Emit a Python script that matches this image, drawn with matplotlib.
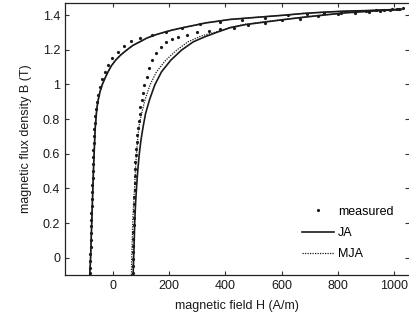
import numpy as np
import matplotlib
matplotlib.use('Agg')
import matplotlib.pyplot as plt

plt.rcParams['font.family'] = ['Liberation Sans', 'DejaVu Sans']
plt.rcParams['font.size'] = 9

# measured points, descending branch (H in A/m, B in T)
H_med_des = [1030, 1010, 990, 965, 935, 900, 860, 810, 750, 690, 623, 541, 458, 381, 310, 244,
             190, 138, 96, 64, 39, 17, -2, -17, -28, -38, -46, -52, -56, -59, -62, -64, -66,
             -67, -68, -69, -70, -71, -72, -72, -73, -74, -74, -75, -76, -76, -77, -78, -78,
             -79, -80, -80, -81, -82]
B_med_des = [1.44, 1.437, 1.433, 1.432, 1.428, 1.425, 1.42, 1.415, 1.41, 1.405, 1.40, 1.384,
             1.371, 1.36, 1.346, 1.327, 1.305, 1.288, 1.269, 1.25, 1.223, 1.188, 1.15, 1.11,
             1.073, 1.03, 0.987, 0.94, 0.90, 0.86, 0.82, 0.78, 0.74, 0.70, 0.66, 0.62, 0.58,
             0.54, 0.50, 0.46, 0.42, 0.38, 0.34, 0.30, 0.26, 0.22, 0.18, 0.14, 0.10, 0.06,
             0.02, -0.02, -0.06, -0.09]

# measured points, ascending branch
H_med_asc = [70, 71, 71, 72, 72, 73, 73, 74, 74, 75, 75, 76, 77, 78, 78, 79, 80, 82, 83, 85,
             87, 89, 92, 95, 98, 102, 107, 112, 120, 128, 140, 155, 171, 188, 211, 232, 262,
             300, 340, 381, 429, 481, 541, 600, 665, 730, 800, 860, 910, 950, 985, 1015]
B_med_asc = [-0.09, -0.05, -0.01, 0.03, 0.07, 0.11, 0.15, 0.19, 0.23, 0.27, 0.31, 0.35, 0.39,
             0.43, 0.47, 0.51, 0.55, 0.59, 0.63, 0.67, 0.71, 0.75, 0.79, 0.83, 0.87, 0.91,
             0.95, 0.997, 1.045, 1.093, 1.14, 1.18, 1.217, 1.246, 1.265, 1.275, 1.285, 1.30,
             1.31, 1.318, 1.327, 1.342, 1.357, 1.371, 1.38, 1.392, 1.405, 1.415, 1.42, 1.425,
             1.43, 1.435]

# JA model
H_ja_des = [1025, 960, 900, 826, 750, 680, 612, 540, 470, 416, 374, 330, 292, 250, 209, 180,
            149, 120, 96, 70, 49, 28, 10, -5, -17, -28, -38, -46, -52, -57, -60, -63, -65,
            -67, -69, -71, -73, -75, -77, -79, -82]
B_ja_des = [1.433, 1.430, 1.426, 1.423, 1.417, 1.410, 1.400, 1.391, 1.382, 1.375, 1.365,
            1.355, 1.342, 1.328, 1.313, 1.300, 1.285, 1.267, 1.246, 1.224, 1.198, 1.170,
            1.140, 1.108, 1.073, 1.035, 0.997, 0.955, 0.91, 0.86, 0.80, 0.74, 0.66, 0.58,
            0.50, 0.40, 0.30, 0.20, 0.10, 0.00, -0.10]
H_ja_asc = [72, 74, 76, 78, 81, 84, 87, 90, 94, 100, 108, 116, 130, 149, 173, 206, 244, 286,
            327, 375, 416, 470, 540, 612, 680, 760, 826, 900, 960, 1025]
B_ja_asc = [-0.10, 0.00, 0.10, 0.22, 0.32, 0.40, 0.47, 0.53, 0.60, 0.68, 0.76, 0.83, 0.91,
            0.997, 1.073, 1.14, 1.198, 1.246, 1.275, 1.304, 1.327, 1.345, 1.360, 1.375,
            1.388, 1.402, 1.413, 1.421, 1.427, 1.433]

# MJA model
H_mja_des = [1025, 960, 900, 826, 750, 680, 612, 540, 470, 416, 374, 330, 292, 250, 209, 180,
             149, 120, 96, 70, 49, 28, 10, -5, -17, -28, -38, -46, -52, -57, -60, -63, -65,
             -67, -69, -71, -73, -75, -77, -79, -82]
B_mja_des = [1.433, 1.430, 1.426, 1.423, 1.417, 1.410, 1.400, 1.391, 1.382, 1.375, 1.365,
             1.355, 1.342, 1.328, 1.313, 1.300, 1.285, 1.267, 1.246, 1.224, 1.198, 1.170,
             1.140, 1.108, 1.073, 1.035, 0.997, 0.955, 0.91, 0.86, 0.80, 0.74, 0.66, 0.58,
             0.50, 0.40, 0.30, 0.20, 0.10, 0.00, -0.10]
H_mja_asc = [66, 67, 69, 71, 74, 77, 79, 81, 84, 88, 93, 102, 114, 132, 155, 188, 227, 267,
             315, 375, 416, 470, 540, 612, 680, 760, 826, 900, 960, 1025]
B_mja_asc = [-0.10, 0.00, 0.10, 0.22, 0.32, 0.40, 0.47, 0.53, 0.60, 0.68, 0.76, 0.83, 0.91,
             0.997, 1.073, 1.14, 1.198, 1.246, 1.28, 1.306, 1.329, 1.347, 1.362, 1.376,
             1.389, 1.403, 1.414, 1.422, 1.428, 1.433]

ytick_vals = [0, 0.2, 0.4, 0.6, 0.8, 1, 1.2, 1.4]
ytick_labels = ['0', '0.2', '0.4', '0.6', '0.8', '1', '1.2', '1.4']
xtick_vals = [0, 200, 400, 600, 800, 1000]

col = '#1a1a1a'
fig = plt.figure(figsize=(4.1, 3.21), dpi=100)
ax = fig.add_axes([0.1585, 0.1433, 0.839, 0.8474])

ax.plot(H_ja_des, B_ja_des, '-', color=col, lw=1.2, label='JA')
ax.plot(H_ja_asc, B_ja_asc, '-', color=col, lw=1.2)
ax.plot(H_mja_des, B_mja_des, linestyle=(0, (1, 1)), color=col, lw=0.9, label='MJA')
ax.plot(H_mja_asc, B_mja_asc, linestyle=(0, (1, 1)), color=col, lw=0.9)
ax.plot(H_med_des, B_med_des, 'o', color=col, ms=2.3, mew=0, label='measured')
ax.plot(H_med_asc, B_med_asc, 'o', color=col, ms=2.3, mew=0)

ax.set_xlim(-170, 1052)
ax.set_ylim(-0.1, 1.47)
ax.set_xticks(xtick_vals)
ax.set_yticks(ytick_vals)
ax.set_yticklabels(ytick_labels)
ax.tick_params(direction='in', length=3, width=0.8, top=True, right=True, colors='#333333',
               labelcolor=col)
ax.spines['right'].set_visible(False)
for s in ['left', 'bottom', 'top']:
    ax.spines[s].set_linewidth(0.9)
    ax.spines[s].set_color('#222222')

ax.set_xlabel('magnetic field H (A/m)', color=col, labelpad=6)
ax.set_ylabel('magnetic flux density B (T)', color=col, labelpad=8)

h, l = ax.get_legend_handles_labels()
order = [2, 0, 1]
ax.legend([h[i] for i in order], [l[i] for i in order], loc='lower right',
          bbox_to_anchor=(0.97, 0.035), frameon=False, numpoints=1, handlelength=2.6,
          handletextpad=0.3, labelspacing=0.75, borderaxespad=0)

fig.savefig('out.png', dpi=100)
